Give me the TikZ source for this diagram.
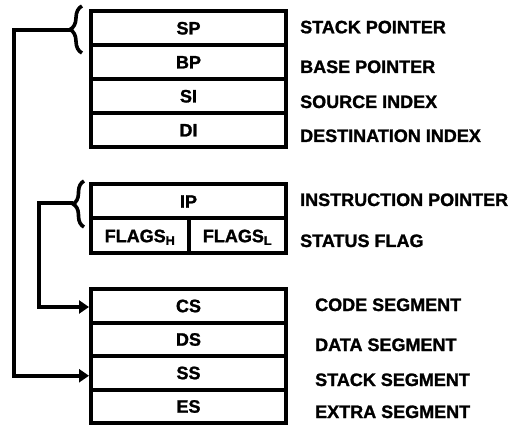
\documentclass[tikz,border=0pt]{standalone}
\usepackage{fontspec}
\setmainfont{Liberation Sans}[BoldFeatures={FakeBold=1.3}]
\usetikzlibrary{arrows.meta,decorations.pathreplacing}
\begin{document}
\begin{tikzpicture}[x=1pt,y=-1pt,
  reg/.style={draw, line width=4pt, inner sep=0pt, font=\fontsize{18}{20}\selectfont\bfseries, text height=12.9pt, text depth=0pt, anchor=center},
  wide/.style={reg, minimum width=195pt},
  lab/.style={anchor=base west, inner sep=0pt, font=\fontsize{18}{20}\selectfont\bfseries},
  conn/.style={line width=4pt, -{Triangle[length=10pt,width=13pt]}},
  bracestyle/.style={line width=3.6pt, decorate, decoration={brace, amplitude=12pt}}]
\useasboundingbox (0,0) rectangle (520,425);
% general registers
\node[wide, minimum height=34pt] (sp) at (188.5,28) {SP};
\node[wide, minimum height=34pt] (bp) at (188.5,62) {BP};
\node[wide, minimum height=34pt] (si) at (188.5,96) {SI};
\node[wide, minimum height=34pt] (di) at (188.5,130) {DI};
% ip / flags
\node[wide, minimum height=34.5pt] (ip) at (188.5,201.25) {IP};
\node[reg, minimum width=98pt, minimum height=34.5pt] (flh) at (140,235.75) {FLAGS\textsubscript{H}};
\node[reg, minimum width=97pt, minimum height=34.5pt] (fll) at (237.5,235.75) {FLAGS\textsubscript{L}};
% segments
\node[wide, minimum height=33.5pt] (cs) at (188.5,305.75) {CS};
\node[wide, minimum height=33.5pt] (ds) at (188.5,339.25) {DS};
\node[wide, minimum height=33.5pt] (ss) at (188.5,372.75) {SS};
\node[wide, minimum height=33.5pt] (es) at (188.5,406.25) {ES};
% labels
\node[lab] (lsp) at (300,33.3) {STACK POINTER};
\node[lab] (lbp) at (300,73) {BASE POINTER};
\node[lab] (lsi) at (300,108) {SOURCE INDEX};
\node[lab] (ldi) at (300,142) {DESTINATION INDEX};
\node[lab] (lip) at (300,206) {INSTRUCTION POINTER};
\node[lab] (lfl) at (300,247) {STATUS FLAG};
\node[lab] (lcs) at (315,311) {CODE SEGMENT};
\node[lab] (lds) at (315,351) {DATA SEGMENT};
\node[lab] (lss) at (315,386) {STACK SEGMENT};
\node[lab] (les) at (315,418) {EXTRA SEGMENT};
% braces
\draw[bracestyle] (82,53) -- (82,6);
\draw[bracestyle, decoration={brace, amplitude=11pt}] (84,227) -- (84,181);
% connectors
\coordinate (t1) at (70,30);
\coordinate (t2) at (73,203);
\draw[conn] (t1) -- ++(-56,0) |- ([yshift=-3pt]ss.west);
\draw[conn] (t2) -- ++(-34.5,0) |- ([yshift=-1.25pt]cs.west);
\end{tikzpicture}
\end{document}
